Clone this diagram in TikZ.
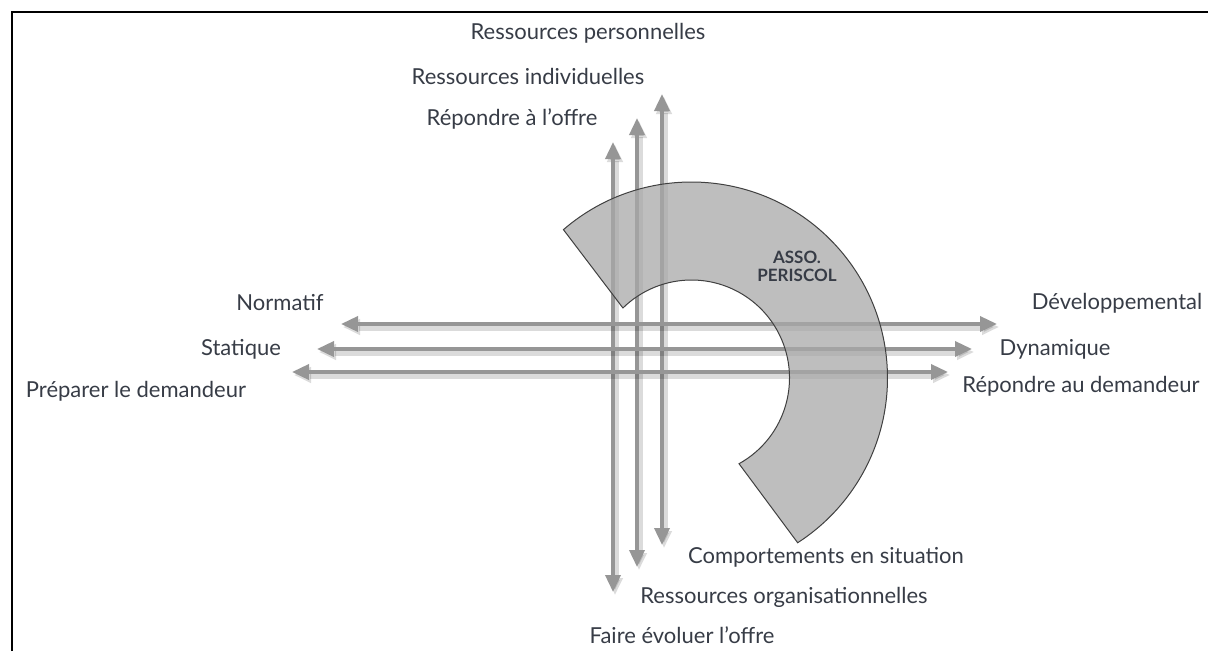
\documentclass[tikz,border=0pt]{standalone}
\usepackage{fontspec}
\setmainfont{Lato}
\usetikzlibrary{arrows.meta}
\definecolor{txtgray}{RGB}{55,60,70}
\definecolor{axisgray}{RGB}{150,150,150}
\definecolor{ringgray}{RGB}{168,168,168}

\begin{document}
\begin{tikzpicture}[x=1pt, y=-1pt,
    label/.style={text=txtgray, font=\fontsize{22}{26}\selectfont, inner sep=0pt},
    axis/.style={{Triangle[length=17pt,width=15pt]}-{Triangle[length=17pt,width=15pt]}, draw=axisgray, line width=3.5pt,
        preaction={draw=black, draw opacity=.14, fill opacity=.14, line width=8pt, transform canvas={shift={(2pt,-3pt)}}}},
    ring/.style={fill=ringgray, fill opacity=.75, draw=black!75, line width=1pt},
    tag/.style={text=txtgray, font=\fontsize{17}{18}\selectfont\bfseries, align=center, inner sep=0pt},
    frame/.style={draw=black, line width=2.5pt}
    ]

    % Marco
    \useasboundingbox (0,0) rectangle (1208,651);
    \draw[frame] (12,651) -- (12,12) -- (1208,12);

    % Extremos de los ejes
    \coordinate (offreHaut) at (613,142);
    \coordinate (offreBas) at (613,592);
    \coordinate (indivHaut) at (637,118);
    \coordinate (orgaBas) at (637,567);
    \coordinate (persoHaut) at (662,94);
    \coordinate (compBas) at (662,545);
    \coordinate (normG) at (341,324);
    \coordinate (devD) at (997,324);
    \coordinate (statG) at (317,349);
    \coordinate (dynD) at (972,349);
    \coordinate (prepG) at (292,372);
    \coordinate (repD) at (948,372);

    % Ejes
    \draw[axis] (offreHaut) -- (offreBas);
    \draw[axis] (indivHaut) -- (orgaBas);
    \draw[axis] (persoHaut) -- (compBas);
    \draw[axis] (normG) -- (devD);
    \draw[axis] (statG) -- (dynD);
    \draw[axis] (prepG) -- (repD);

    % Anillo
    \coordinate (ctr) at (691.5,378);
    \filldraw[ring] ([shift={(-130.8:196)}]ctr) arc[start angle=-130.8, end angle=57.2, radius=196]
        -- ([shift={(61:98)}]ctr) arc[start angle=61, end angle=-134.4, radius=98] -- cycle;
    \node[tag] (Asso) at (797,266) {ASSO.\\PERISCOL};

    % Etiquetas
    \node[label] (Perso) at (588,33) {Ressources personnelles};
    \node[label] (Indiv) at (528,76) {Ressources individuelles};
    \node[label] (RepOffre) at (512,119) {Répondre à l’offre};
    \node[label] (Normatif) at (280,303) {Normatif};
    \node[label] (Statique) at (241,349) {Statique};
    \node[label] (Preparer) at (136,391) {Préparer le demandeur};
    \node[label] (Dev) at (1117,303) {Développemental};
    \node[label] (Dyn) at (1055,349) {Dynamique};
    \node[label] (RepDem) at (1081,386) {Répondre au demandeur};
    \node[label] (Comp) at (826,557) {Comportements en situation};
    \node[label] (Orga) at (784,597) {Ressources organisationnelles};
    \node[label] (Evoluer) at (682,635) {Faire évoluer l’offre};

\end{tikzpicture}
\end{document}
